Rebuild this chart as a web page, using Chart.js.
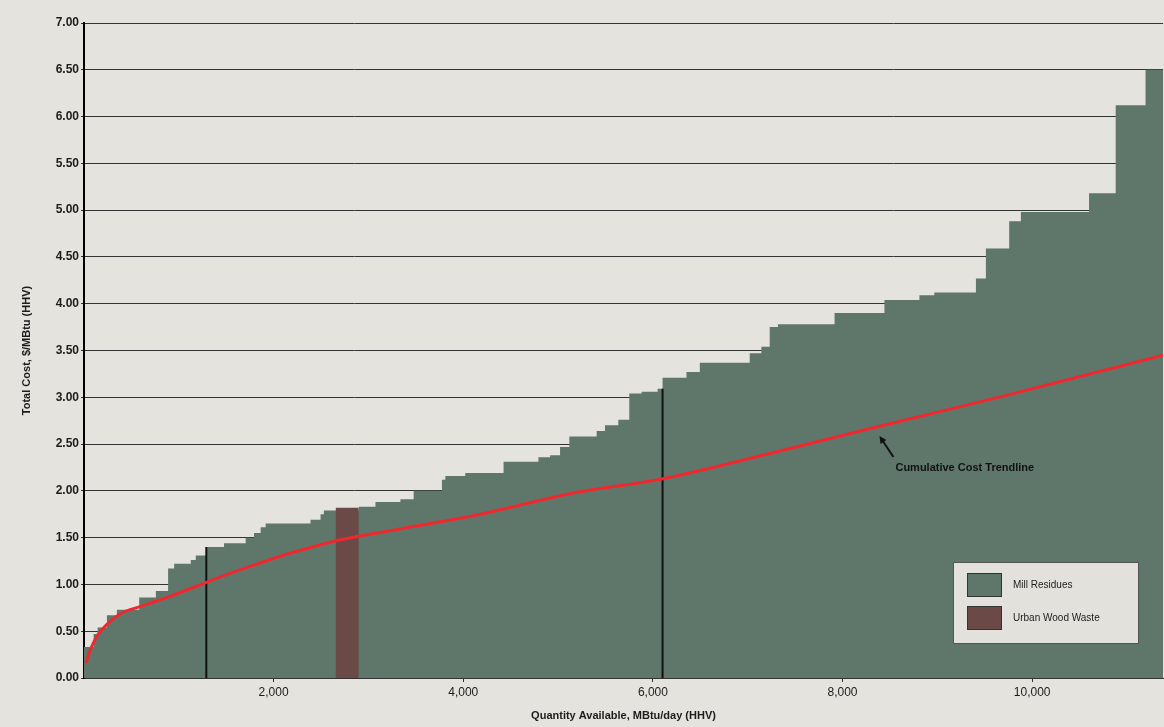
<!DOCTYPE html>
<html>
<head>
<meta charset="utf-8">
<script src="https://cdn.jsdelivr.net/npm/chart.js@4"></script>
<style>
  html, body { margin: 0; padding: 0; background: #e5e3de; }
  #wrap { width: 1164px; height: 727px; }
</style>
</head>
<body>
<div id="wrap"><canvas id="supply" width="1164" height="727"></canvas></div>
<script>
/* ── supply curve data ── */
const stepQty  = [0, 102, 144, 242, 347, 582, 758, 887, 951, 1126, 1179, 1290, 1477, 1705, 1793, 1863,
                  1916, 2389, 2495, 2530, 2898, 3074, 3337, 3477, 3775, 3811, 4021, 4425, 4793, 4916,
                  5021, 5119, 5407, 5495, 5635, 5751, 5881, 6050, 6102, 6354, 6495, 7021, 7144, 7232,
                  7319, 7916, 8442, 8811, 8968, 9407, 9512, 9758, 9881, 10600, 10881, 11196, 11380];
const millCost = [0.33, 0.47, 0.54, 0.67, 0.73, 0.86, 0.93, 1.17, 1.22, 1.26, 1.31, 1.40, 1.44, 1.50, 1.55, 1.61,
                  1.65, 1.69, 1.75, 1.79, 1.83, 1.88, 1.91, 2.00, 2.12, 2.16, 2.19, 2.31, 2.36, 2.38,
                  2.47, 2.58, 2.64, 2.70, 2.76, 3.04, 3.06, 3.09, 3.21, 3.27, 3.37, 3.47, 3.54, 3.75,
                  3.78, 3.90, 4.04, 4.09, 4.12, 4.27, 4.59, 4.88, 4.98, 5.18, 6.12, 6.50, 6.50];

const urbanQty  = [2653, 2898];
const urbanCost = [1.82, 1.82];

const trendQty  = [21, 74, 144, 249, 389, 582, 758, 898, 1056, 1284, 1547, 1828, 2020, 2284, 2670,
                   3372, 4179, 5126, 6105, 7232, 8389, 9684, 11380];
const trendCost = [0.16, 0.32, 0.46, 0.58, 0.69, 0.76, 0.82, 0.87, 0.93, 1.02, 1.12, 1.22, 1.285, 1.365, 1.47,
                   1.60, 1.75, 1.97, 2.13, 2.40, 2.69, 3.01, 3.45];

const dividerQty = [1290, 6102];
const dividerTop = [1.40, 3.09];

const xTicks = [2000, 4000, 6000, 8000, 10000];
const yTicks = [0, 0.5, 1, 1.5, 2, 2.5, 3, 3.5, 4, 4.5, 5, 5.5, 6, 6.5, 7];
const X_MAX  = 11380;

const noteQty  = 8400;
const noteText = 'Cumulative Cost Trendline';

/* ── colours ── */
const MILL  = '#5f776b';
const URBAN = '#6a4946';
const TREND = '#f0282e';
const INK   = '#1c1c1c';
const FONT  = '"Liberation Sans", Arial, sans-serif';

Chart.defaults.font.family = FONT;
Chart.defaults.color = INK;

const pts = (xs, ys) => xs.map((x, i) => ({ x, y: ys[i] }));

// linear lookup on the trendline, only used to place the annotation arrow
function trendAt(q) {
  for (let i = 1; i < trendQty.length; i++) {
    if (q <= trendQty[i]) {
      const t = (q - trendQty[i - 1]) / (trendQty[i] - trendQty[i - 1]);
      return trendCost[i - 1] + t * (trendCost[i] - trendCost[i - 1]);
    }
  }
  return trendCost[trendCost.length - 1];
}

/* ── legend box + trendline note, drawn inside the plot ── */
const overlay = {
  id: 'overlay',
  afterDatasetsDraw(chart) {
    const { ctx, scales: { x, y }, chartArea: a } = chart;
    ctx.save();

    // arrow + label
    const px = x.getPixelForValue(noteQty);
    const py = y.getPixelForValue(trendAt(noteQty));
    const tip = { x: px - 1, y: py + 10 };
    const tail = { x: px + 13, y: py + 31 };
    ctx.strokeStyle = '#111';
    ctx.fillStyle = '#111';
    ctx.lineWidth = 2;
    ctx.beginPath();
    ctx.moveTo(tail.x, tail.y);
    ctx.lineTo(tip.x + 2, tip.y + 3);
    ctx.stroke();
    const ang = Math.atan2(tip.y - tail.y, tip.x - tail.x);
    ctx.beginPath();
    ctx.moveTo(tip.x, tip.y);
    ctx.lineTo(tip.x - 8 * Math.cos(ang - 0.45), tip.y - 8 * Math.sin(ang - 0.45));
    ctx.lineTo(tip.x - 8 * Math.cos(ang + 0.45), tip.y - 8 * Math.sin(ang + 0.45));
    ctx.closePath();
    ctx.fill();
    ctx.font = 'bold 11px ' + FONT;
    ctx.textBaseline = 'middle';
    ctx.textAlign = 'left';
    ctx.fillText(noteText, px + 15, py + 42);

    // legend
    const items = chart.data.datasets
      .filter(d => d.legendRank)
      .sort((p, q) => p.legendRank - q.legendRank);
    const bw = 185, bh = 81;
    const bx = a.right - 25 - bw, by = a.bottom - 35 - bh;
    ctx.fillStyle = '#e3e1dc';
    ctx.fillRect(bx, by, bw, bh);
    ctx.strokeStyle = '#555';
    ctx.lineWidth = 1;
    ctx.strokeRect(bx + 0.5, by + 0.5, bw, bh);
    ctx.font = '10px ' + FONT;
    items.forEach((d, i) => {
      const sy = by + 11 + i * 33;
      ctx.fillStyle = d.backgroundColor;
      ctx.fillRect(bx + 14, sy, 35, 24);
      ctx.strokeStyle = '#333';
      ctx.strokeRect(bx + 14.5, sy + 0.5, 34, 23);
      ctx.fillStyle = INK;
      ctx.fillText(d.label, bx + 60, sy + 12);
    });

    ctx.restore();
  }
};

new Chart(document.getElementById('supply'), {
  type: 'line',
  data: {
    datasets: [
      {
        label: 'Cumulative Cost Trendline',
        data: pts(trendQty, trendCost),
        borderColor: TREND, borderWidth: 3,
        pointRadius: 0, cubicInterpolationMode: 'monotone',
        fill: false, order: 0,
      },
      ...dividerQty.map((q, i) => ({
        label: 'divider',
        data: [{ x: q, y: 0 }, { x: q, y: dividerTop[i] }],
        borderColor: '#111', borderWidth: 2,
        pointRadius: 0, fill: false, order: 1,
      })),
      {
        label: 'Urban Wood Waste', legendRank: 2,
        data: pts(urbanQty, urbanCost),
        backgroundColor: URBAN, borderColor: 'rgba(0,0,0,0)',
        pointRadius: 0, fill: 'origin', order: 2,
      },
      {
        // each cost holds from its own quantity up to the next one
        label: 'Mill Residues', legendRank: 1,
        data: pts(stepQty, millCost),
        stepped: 'before',
        backgroundColor: MILL, borderColor: 'rgba(0,0,0,0)',
        pointRadius: 0, fill: 'origin', order: 3,
      },
    ]
  },
  options: {
    responsive: false,
    animation: false,
    devicePixelRatio: 1,
    layout: { padding: { top: 23, right: 1, left: 0, bottom: 0 } },
    plugins: {
      legend: { display: false },
      tooltip: { enabled: false },
    },
    scales: {
      x: {
        type: 'linear', min: 0, max: X_MAX,
        afterBuildTicks: s => { s.ticks = xTicks.map(v => ({ value: v })); },
        afterFit: s => { s.height = 49; },
        ticks: {
          autoSkip: false, maxRotation: 0, padding: 3,
          font: { size: 12 }, color: INK,
          callback: v => v.toLocaleString('en-US'),
        },
        grid: { drawOnChartArea: false, tickLength: 4, color: '#333' },
        border: { color: '#333', width: 1 },
        title: {
          display: true, text: 'Quantity Available, MBtu/day (HHV)',
          font: { size: 11, weight: 'bold' }, color: INK,
          padding: { top: 0, bottom: 4 },
        },
      },
      y: {
        type: 'linear', min: 0, max: 7,
        afterBuildTicks: s => { s.ticks = yTicks.map(v => ({ value: v })); },
        afterFit: s => { s.width = 84; },
        ticks: {
          padding: 2, font: { size: 12, weight: 'bold' }, color: INK,
          callback: v => v.toFixed(2),
        },
        grid: { color: '#333', lineWidth: 1, tickLength: 3 },
        border: { color: '#000', width: 2 },
        title: {
          display: true, text: 'Total Cost, $/MBtu (HHV)',
          font: { size: 11, weight: 'bold' }, color: INK,
          padding: { top: 20, bottom: 0 },
        },
      },
    },
  },
  plugins: [overlay],
});
</script>
</body>
</html>
